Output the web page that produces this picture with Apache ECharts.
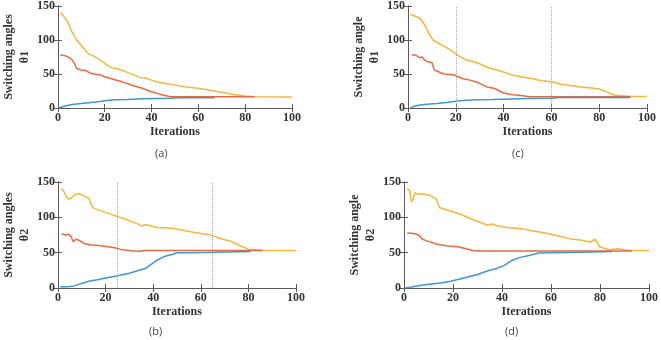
<!DOCTYPE html>
<html>
<head>
<meta charset="utf-8">
<script src="https://cdn.jsdelivr.net/npm/echarts@6/dist/echarts.min.js"></script>
<style>html,body{margin:0;padding:0;background:#fff;}#c{width:661px;height:340px;}</style>
</head>
<body>
<div id="c"></div>
<script>
// ---- data ----
const xTicks = [0, 20, 40, 60, 80, 100];
const yTicks = [0, 50, 100, 150];
const panelCaptions = ['(a)', '(b)', '(c)', '(d)'];
const yNames = ['Switching angles\nθ1', 'Switching angles\nθ2', 'Switching angle\nθ1', 'Switching angle\nθ2'];

const aYellow = [[1,140],[2,137],[4,128],[6,112],[8,100],[10,92],[12,84],[13,80],[15,77],[17,73],[19,68],[21,63],[23,59],[25,58],[27,56],[30,52],[33,48],[35,45],[37,44.5],[40,41],[43,38],[46,36],[50,34],[55,31],[60,29],[65,26],[70,23],[75,20],[80,17.5],[84,16.5],[100,16]];
const aRed = [[1,78],[3,77],[5,74],[6,71],[7,66],[8,58],[10,56],[12,55],[14,51],[16,49.5],[18,49],[20,46],[24,42],[28,38],[32,33],[36,29],[40,24],[44,20],[48,16.5],[84,16.5]];
const aBlue = [[0.5,0],[1,2],[3,3],[6,5],[10,6.5],[14,8],[18,9.5],[20,10.5],[24,12],[30,12.5],[36,13.5],[42,14],[48,14.2],[52,15],[67,15]];

const bYellow = [[1.5,141],[2.5,137],[3.5,129],[4.5,126],[5.5,127],[7,132],[9,133.5],[11,130],[13,127],[14,118],[15,113],[17,110.5],[20,107],[23,103.5],[25,101],[28,98],[31,94],[34,90],[35,88],[37,89.5],[40,87],[42,85.5],[48,84.5],[52,82],[55,80],[60,77],[64,75.5],[66,73],[68,70],[72,67],[74,64],[77,59],[80,55],[83,54],[86,53],[100,53]];
const bRed = [[1.5,77],[3,75],[4.5,76],[5.5,73],[6.5,65.5],[7.5,69],[9,67.5],[11,63],[14,61],[17,60],[21,58.5],[24,57],[26,55],[29,53.5],[32,52.5],[35,52],[36,53],[86,53]];
const bBlue = [[1,1.5],[5,2],[7,3],[10,6.5],[13,9.5],[17,12],[20,14],[23,16],[26,18],[30,21],[33,24],[37,28],[39,33],[42,40],[45,45],[48,47.5],[50,50],[55,50],[65,50.5],[81,51.5]];
const bMarks = [25, 65];

const cYellow = [[1,138],[3,135],[5,132],[7,122],[9,108],[10.5,100],[12,97],[15,91],[17,87],[20,80],[22,75],[24,71],[27,68.5],[30,65],[33,60],[36,57],[40,53],[44,48],[48,45.5],[52,43],[56,40],[60,38.5],[64,35],[68,33],[72,31],[77,29.5],[80,28],[83,24],[86,19],[90,18],[93,17],[100,17]];
const cRed = [[1.5,78],[3,78],[4,76],[5,74],[6,75],[7,70],[8,68.5],[10,67],[11,56],[13,53],[15,50],[19,49],[21,46],[23,43],[26,41],[29,38],[33,31],[36,29],[40,22],[44,19.5],[48,18],[51,16.5],[93,16.5]];
const cBlue = [[1,0],[3,3],[5,4.5],[8,5.5],[12,6.5],[16,8],[20,10],[23,11],[28,12],[35,12.5],[40,13],[50,14],[60,14.5],[63,15.5],[93,15.5]];
const cMarks = [20, 60];

const dYellow = [[1.3,141],[2.3,138],[3,122],[3.7,126],[4.5,135],[5.5,133],[7,133.5],[10,131.5],[13,127],[14.5,114],[17,111],[20,108],[24,103],[28,97],[31,93],[34,89],[36,90.5],[38,88],[42,85.5],[48,84],[52,81],[56,79],[60,76],[64,73],[68,69.5],[72,68],[76,65],[78,69],[80,58],[82,56],[84,54],[87,55.5],[90,54],[93,53],[100,53]];
const dRed = [[1.3,78],[4,77],[6,75],[7.5,69],[10,66],[14,61.5],[18,59.5],[22,58.5],[25,56],[28,53],[31,52.5],[93,52.5]];
const dBlue = [[0.5,0],[3,1.5],[7,4],[11,5.5],[15,7],[19,9.5],[22,12],[26,15.5],[30,19],[34,24],[38,28],[41,32],[44,39],[47,43],[51,46],[55,49.5],[60,50],[72,50.5],[85,51.5]];

// ---- layout ----
const grids = [
  {left: 51, top: 4, width: 241, height: 104},
  {left: 46, top: 182, width: 250, height: 106},
  {left: 408, top: 4, width: 239, height: 104},
  {left: 404, top: 182, width: 249, height: 106}
];
const captionPos = [[163,155],[157,333],[520,155],[513,333]];
const panelData = [
  {y: aYellow, r: aRed, b: aBlue, marks: []},
  {y: bYellow, r: bRed, b: bBlue, marks: bMarks},
  {y: cYellow, r: cRed, b: cBlue, marks: cMarks},
  {y: dYellow, r: dRed, b: dBlue, marks: []}
];
const COL = {y: '#f3b73a', r: '#e86a40', b: '#3f95d8'};
const serif = "'Liberation Serif', 'Times New Roman', serif";
const axisCol = '#5a5a5a';

const xAxes = [], yAxes = [], series = [], graphics = [];
grids.forEach((g, i) => {
  const lineCfg = {show: true, lineStyle: {color: axisCol, width: 1}};
  const tickCfg = {show: true, inside: true, length: 4, lineStyle: {color: axisCol}};
  const lblStyle = {color: '#333', fontFamily: serif, fontWeight: 'bold', fontSize: 12};
  xAxes.push({
    gridIndex: i, type: 'value', min: xTicks[0], max: xTicks[xTicks.length-1], interval: xTicks[1]-xTicks[0],
    position: 'bottom', axisLine: lineCfg, axisTick: tickCfg, splitLine: {show: false},
    axisLabel: Object.assign({margin: 4}, lblStyle),
    name: 'Iterations', nameLocation: 'middle', nameGap: 18,
    nameTextStyle: {color: '#333', fontFamily: serif, fontWeight: 'bold', fontSize: 12, verticalAlign: 'top'}
  });
  xAxes.push({
    gridIndex: i, type: 'value', min: xTicks[0], max: xTicks[xTicks.length-1], interval: xTicks[1]-xTicks[0],
    position: 'top', axisLine: lineCfg, axisTick: tickCfg, splitLine: {show: false}, axisLabel: {show: false}
  });
  yAxes.push({
    gridIndex: i, type: 'value', min: yTicks[0], max: yTicks[yTicks.length-1], interval: yTicks[1]-yTicks[0],
    position: 'left', axisLine: lineCfg, axisTick: tickCfg, splitLine: {show: false},
    axisLabel: Object.assign({margin: 3}, lblStyle),
    name: yNames[i], nameLocation: 'middle', nameGap: 21, nameRotate: 90,
    nameTextStyle: {color: '#333', fontFamily: serif, fontWeight: 'bold', fontSize: 12, lineHeight: 16}
  });
  yAxes.push({
    gridIndex: i, type: 'value', min: yTicks[0], max: yTicks[yTicks.length-1], interval: yTicks[1]-yTicks[0],
    position: 'right', axisLine: lineCfg, axisTick: tickCfg, splitLine: {show: false}, axisLabel: {show: false}
  });
  const pd = panelData[i];
  const mk = (data, color) => ({
    type: 'line', xAxisIndex: 2*i, yAxisIndex: 2*i, data: data, showSymbol: false, symbol: 'none',
    lineStyle: {color: color, width: 1.5}, itemStyle: {color: color}, animation: false, z: 3
  });
  const ys = mk(pd.y, COL.y);
  if (pd.marks.length) {
    ys.markLine = {
      silent: true, symbol: ['none','none'], label: {show: false},
      lineStyle: {type: 'dotted', color: '#a8a8a8', width: 1},
      data: pd.marks.map(v => ({xAxis: v})), animation: false
    };
  }
  series.push(ys);
  series.push(mk(pd.r, COL.r));
  series.push(mk(pd.b, COL.b));
  graphics.push({
    type: 'text', left: captionPos[i][0] - 8, top: captionPos[i][1] - 7,
    style: {text: panelCaptions[i], fill: '#444', font: '11px "Open Sans", sans-serif'}
  });
});

const chart = echarts.init(document.getElementById('c'), null, {renderer: 'canvas'});
chart.setOption({
  animation: false,
  backgroundColor: '#fff',
  grid: grids.map(g => Object.assign({containLabel: false}, g)),
  xAxis: xAxes,
  yAxis: yAxes,
  series: series,
  graphic: graphics
});
</script>
</body>
</html>
